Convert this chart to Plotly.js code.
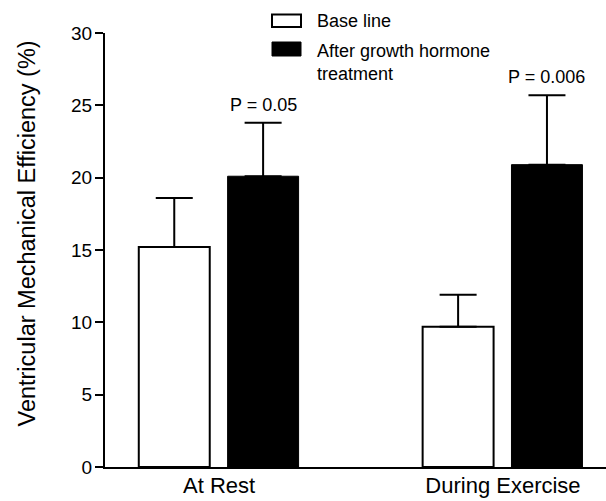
<!DOCTYPE html>
<html>
<head>
<meta charset="utf-8">
<script src="https://cdn.plot.ly/plotly-3.0.1.min.js"></script>
<style>html,body{margin:0;padding:0;background:#fff;}#chart{width:606px;height:501px;}</style>
</head>
<body>
<div id="chart"></div>
<script>
// ---- data ----
const categories = ['At Rest', 'During Exercise'];
const seriesNames = ['Base line', 'After growth hormone<br>treatment'];
const baseline = [15.2, 9.7];
const baselineErr = [3.4, 2.2];
const treated = [20.1, 20.9];
const treatedErr = [3.7, 4.8];
const pValues = ['P = 0.05', 'P = 0.006'];
const yTicks = [0, 5, 10, 15, 20, 25, 30];
const yTitle = 'Ventricular Mechanical Efficiency (%)';

// ---- chart ----
const FONT = 'Liberation Sans, Arial, Helvetica, sans-serif';
const idx = categories.map((_, i) => i);
const BW = 0.25;
const OFF = [-0.283, 0.03];

const traces = [
  {
    type: 'bar', name: seriesNames[0], x: idx, y: baseline,
    width: BW, offset: OFF[0],
    marker: {color: '#ffffff', line: {color: '#000000', width: 2}},
    error_y: {type: 'data', array: baselineErr, arrayminus: baselineErr.map(() => 0), symmetric: false,
              color: '#000000', thickness: 2, width: 18.5},
    showlegend: false, hoverinfo: 'skip'
  },
  {
    type: 'bar', name: seriesNames[1], x: idx, y: treated,
    width: BW, offset: OFF[1],
    marker: {color: '#000000', line: {color: '#000000', width: 1}},
    error_y: {type: 'data', array: treatedErr, arrayminus: treatedErr.map(() => 0), symmetric: false,
              color: '#000000', thickness: 2, width: 18.5},
    showlegend: false, hoverinfo: 'skip'
  }
];

const L = 105, T = 33, W = 606, H = 501, B = 34;
const pw = W - L, ph = H - T - B;
const px2x = p => (p - L) / pw;
const py2y = p => (H - B - p) / ph;

const annotations = [];
// p-values over treated bars
idx.forEach(i => {
  annotations.push({
    xref: 'x', yref: 'y', x: i + OFF[1] + BW / 2, y: treated[i] + treatedErr[i],
    text: pValues[i], showarrow: false, yanchor: 'middle', xanchor: 'center', yshift: 18,
    font: {family: FONT, size: 18, color: '#000'}
  });
});
// y title
annotations.push({
  xref: 'paper', yref: 'paper', x: px2x(26), y: py2y(233.5), text: yTitle, textangle: -90,
  showarrow: false, xanchor: 'center', yanchor: 'middle',
  font: {family: FONT, size: 23.5, color: '#000'}
});
// legend labels
annotations.push({
  xref: 'paper', yref: 'paper', x: px2x(315), y: py2y(21), text: seriesNames[0],
  showarrow: false, xanchor: 'left', yanchor: 'middle',
  font: {family: FONT, size: 18, color: '#000'}
});
annotations.push({
  xref: 'paper', yref: 'paper', x: px2x(315), y: py2y(39), text: seriesNames[1],
  showarrow: false, xanchor: 'left', yanchor: 'top', align: 'left',
  font: {family: FONT, size: 18, color: '#000'}
});

const shapes = [
  {type: 'rect', xref: 'paper', yref: 'paper', x0: px2x(272), x1: px2x(301), y0: py2y(27), y1: py2y(14.5),
   fillcolor: '#ffffff', line: {color: '#000', width: 2}},
  {type: 'rect', xref: 'paper', yref: 'paper', x0: px2x(272), x1: px2x(301), y0: py2y(56), y1: py2y(42),
   fillcolor: '#000000', line: {color: '#000', width: 1}}
];

const layout = {
  width: W, height: H,
  margin: {l: L, r: 0, t: T, b: B, pad: 0},
  paper_bgcolor: '#ffffff', plot_bgcolor: '#ffffff',
  showlegend: false,
  barmode: 'group',
  font: {family: FONT, color: '#000'},
  xaxis: {
    range: [-0.402, 1.363], tickvals: idx, ticktext: categories,
    showline: true, linecolor: '#000', linewidth: 2, ticks: '', showgrid: false, zeroline: false,
    tickfont: {family: FONT, size: 22, color: '#000'}, ticklabelstandoff: -2
  },
  yaxis: {
    range: [0, 30], tickvals: yTicks, ticktext: yTicks.map(String),
    showline: true, linecolor: '#000', linewidth: 2, ticks: 'outside', ticklen: 8, tickwidth: 2, tickcolor: '#000',
    showgrid: false, zeroline: false,
    tickfont: {family: FONT, size: 19, color: '#000'}, ticklabelstandoff: -1
  },
  annotations: annotations,
  shapes: shapes
};

Plotly.newPlot('chart', traces, layout, {staticPlot: true, displayModeBar: false});
</script>
</body>
</html>
